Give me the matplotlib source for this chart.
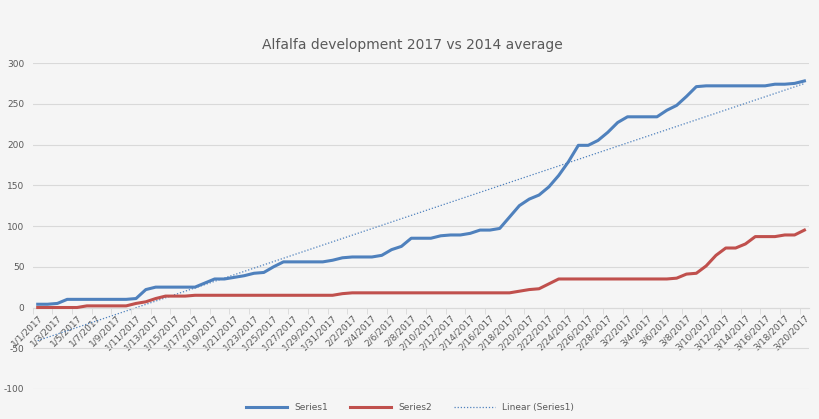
import matplotlib
matplotlib.use("Agg")
import matplotlib.pyplot as plt
import numpy as np
import pandas as pd

plt.rcParams["axes.unicode_minus"] = False

# data
dates = pd.date_range("2017-01-01", "2017-03-20")
labels = [f"{d.month}/{d.day}/{d.year}" for d in dates]

series1 = [4, 4, 5, 10, 10, 10, 10, 10, 10, 10,
           11, 22, 25, 25, 25, 25, 25, 30, 35, 35,
           37, 39, 42, 43, 50, 56, 56, 56, 56, 56,
           58, 61, 62, 62, 62, 64, 71, 75, 85, 85,
           85, 88, 89, 89, 91, 95, 95, 97, 111, 125,
           133, 138, 148, 162, 179, 199, 199, 205, 215, 227,
           234, 234, 234, 234, 242, 248, 259, 271, 272, 272,
           272, 272, 272, 272, 272, 274, 274, 275, 278]
series2 = [0, 0, 0, 0, 0, 2, 2, 2, 2, 2,
           5, 7, 11, 14, 14, 14, 15, 15, 15, 15,
           15, 15, 15, 15, 15, 15, 15, 15, 15, 15,
           15, 17, 18, 18, 18, 18, 18, 18, 18, 18,
           18, 18, 18, 18, 18, 18, 18, 18, 18, 20,
           22, 23, 29, 35, 35, 35, 35, 35, 35, 35,
           35, 35, 35, 35, 35, 36, 41, 42, 51, 64,
           73, 73, 78, 87, 87, 87, 89, 89, 95]

x = np.arange(len(dates))
# linear trendline of Series1, like Excel does
k, b = np.polyfit(x, series1, 1)
trend = k * x + b

txt = "#595959"
bg = "#f5f5f5"

fig = plt.figure(figsize=(8.2, 4.19), dpi=100, facecolor=bg)
ax = fig.add_axes([0.040, 0.0716, 0.947, 0.778], facecolor=bg)

ax.plot(x, series1, color="#4f81bd", lw=2.2, label="Series1", zorder=3)
ax.plot(x, series2, color="#c0504d", lw=2.2, label="Series2", zorder=3)
ax.plot(x, trend, color="#4f81bd", lw=0.9, ls=(0, (1, 1.5)), label="Linear (Series1)", zorder=2)

ax.set_xlim(-0.5, len(x) - 0.5)
ax.set_ylim(-100, 300)
ax.set_yticks(range(-100, 301, 50))
ax.grid(axis="y", color="#d9d9d9", lw=0.8)
ax.set_axisbelow(True)

for s in ["top", "right", "left"]:
    ax.spines[s].set_visible(False)
ax.spines["bottom"].set_position(("data", 0))
ax.spines["bottom"].set_color("#d9d9d9")

ax.set_xticks(x[::2])
ax.set_xticklabels(labels[::2], rotation=45, ha="right", va="top",
                   rotation_mode="anchor", fontsize=6.5, color=txt)
ax.set_xticks(np.arange(-0.5, len(x), 2), minor=True)
ax.tick_params(axis="x", which="major", length=0, pad=4)
ax.tick_params(axis="x", which="minor", length=4, color="#d9d9d9")
ax.tick_params(axis="y", length=0, labelsize=6.5, labelcolor=txt, pad=6)

fig.text(0.503, 0.893, "Alfalfa development 2017 vs 2014 average",
         ha="center", va="center", fontsize=10, color=txt)

fig.legend(loc="center", bbox_to_anchor=(0.5, 0.028), ncol=3, frameon=False,
           fontsize=6.5, labelcolor=txt, handlelength=4.5, columnspacing=2.5)

fig.savefig("out.png", dpi=100, facecolor=bg)
